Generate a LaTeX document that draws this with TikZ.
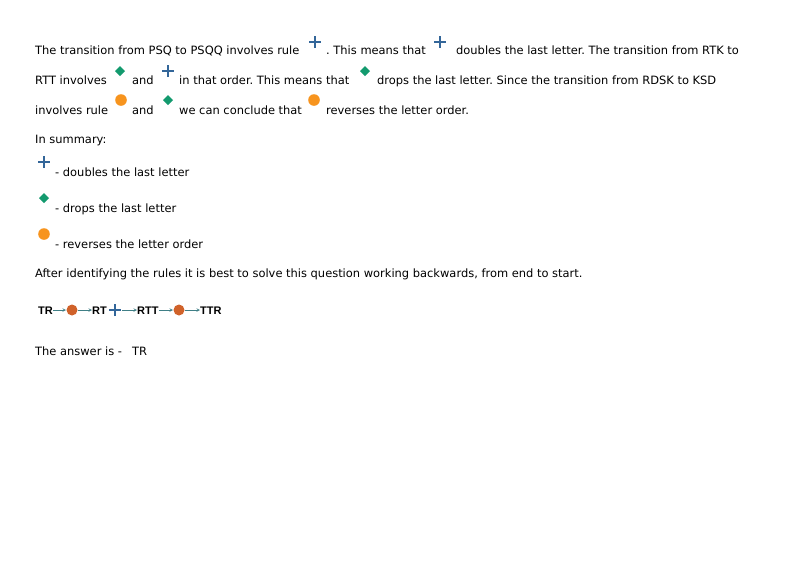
\documentclass[tikz,border=0pt]{standalone}
\usepackage{fontspec}
\setmainfont{DejaVu Sans}
\newfontfamily\chainfont{Liberation Sans}
\definecolor{pblue}{HTML}{336699}
\definecolor{dgreen}{HTML}{139A6E}
\definecolor{orng}{HTML}{F7941E}
\definecolor{brn}{HTML}{D0622A}
\definecolor{arr}{HTML}{3F7F86}
\frenchspacing
\begin{document}
\begin{tikzpicture}[x=1pt,y=1pt,
  txt/.style={anchor=base west,inner sep=0pt,font=\fontsize{11.45}{13}\selectfont},
  chn/.style={anchor=base west,inner sep=0pt,font=\chainfont\bfseries\fontsize{11}{12}\selectfont},
  plusic/.pic={\draw[pblue,line width=1.8pt] (-6,0)--(6,0) (0,-6)--(0,6);},
  diaic/.pic={\fill[dgreen] (0,-5)--(5,0)--(0,5)--(-5,0)--cycle;},
  circic/.pic={\fill[orng] (0,0) circle (5.8);},
  brcirc/.pic={\fill[brn] (0,0) circle (5.5);},
  sarr/.style={->,arr,line width=0.6pt,>=stealth}]
\useasboundingbox (0,0) rectangle (800,-566);
\node[txt] (l1a) at (35,-54) {The transition from PSQ to PSQQ involves rule};
\pic at (315,-42) {plusic};
\node[txt] (l1b) at (326,-54) {. This means that};
\pic at (440,-42) {plusic};
\node[txt] (l1c) at (456,-54) {doubles the last letter. The transition from RTK to};
\node[txt] (l2a) at (35,-84) {RTT involves};
\pic at (120,-71) {diaic};
\node[txt] (l2b) at (132,-84) {and};
\pic at (168,-71) {plusic};
\node[txt] (l2c) at (179,-84) {in that order. This means that};
\pic at (365,-71) {diaic};
\node[txt] (l2d) at (377,-84) {drops the last letter. Since the transition from RDSK to KSD};
\node[txt] (l3a) at (35,-114) {involves rule};
\pic at (121,-100) {circic};
\node[txt] (l3b) at (132,-114) {and};
\pic at (168,-100) {diaic};
\node[txt] (l3c) at (179,-114) {we can conclude that};
\pic at (314,-100) {circic};
\node[txt] (l3d) at (326,-114) {reverses the letter order.};
\node[txt] (sum) at (35,-143) {In summary:};
\pic at (44,-162) {plusic};
\node[txt] (s1) at (55,-176) {- doubles the last letter};
\pic at (44,-198) {diaic};
\node[txt] (s2) at (55,-212) {- drops the last letter};
\pic at (44,-234) {circic};
\node[txt] (s3) at (55,-248) {- reverses the letter order};
\node[txt] (aft) at (35,-277) {After identifying the rules it is best to solve this question working backwards, from end to start.};
\node[chn] (c1) at (38,-314) {TR};
\coordinate (p1) at (72,-310);
\pic at (p1) {brcirc};
\node[chn] (c2) at (92,-314) {RT};
\coordinate (p2) at (115,-310);
\pic at (p2) {plusic};
\node[chn] (c3) at (137,-314) {RTT};
\coordinate (p3) at (179,-310);
\pic at (p3) {brcirc};
\node[chn] (c4) at (200,-314) {TTR};
\draw[sarr] (c1.east|-0,-310) -- (66,-310);
\draw[sarr] (78,-310) -- (c2.west|-0,-310);
\draw[sarr] (122,-310) -- (c3.west|-0,-310);
\draw[sarr] (c3.east|-0,-310) -- (173,-310);
\draw[sarr] (185,-310) -- (c4.west|-0,-310);
\node[txt] (ans) at (35,-355) {The answer is -};
\node[txt] (ansv) at (132,-355) {TR};
\end{tikzpicture}
\end{document}
